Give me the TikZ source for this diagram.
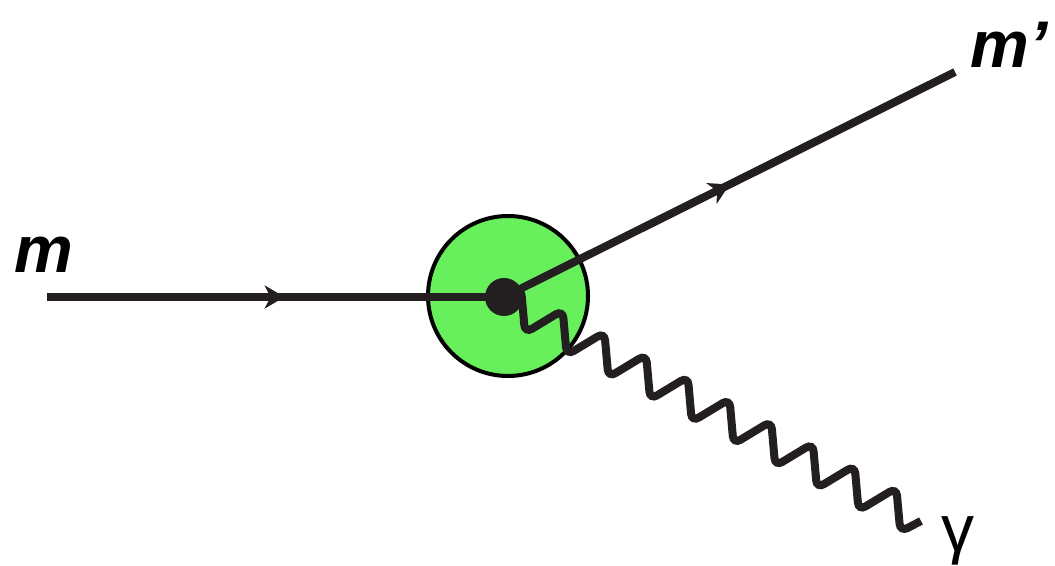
\documentclass[tikz,border=0pt]{standalone}
\usepackage{fontspec}
\setsansfont{Liberation Sans}
\usepackage{tikz}
\usetikzlibrary{arrows.meta}
\usetikzlibrary{decorations.markings}

\definecolor{linegray}{RGB}{35,31,32}
\definecolor{blobgreen}{RGB}{104,240,92}

\tikzset{
  fermion/.style={line width=4pt, draw=linegray,
    postaction={decorate, decoration={markings,
      mark=at position #1 with {\arrow[linegray]{Stealth[length=10pt,width=11.5pt,inset=3pt]}}}}},
  photon/.style={line width=4pt, draw=linegray, rounded corners=4pt, line cap=butt},
  lbl/.style={font=\sffamily\fontsize{33}{36}\selectfont, text=black, inner sep=0pt}
}

\begin{document}
\begin{tikzpicture}[x=0.5pt, y=-0.5pt]

  \useasboundingbox (0,0) rectangle (1055,566);

  % blob round the vertex
  \node[circle, draw=black, line width=2pt, fill=blobgreen, minimum size=80pt, inner sep=0pt] (blob) at (508,296) {};

  \coordinate (v) at (504,297);
  \coordinate (in) at (47,297);
  \coordinate (out) at (955,72);
  \coordinate (gend) at (921,521);

  \draw[fermion=0.52] (in) -- (v);
  \draw[fermion=0.5] (v) -- (out);
  % photon: steep down strokes, slanted up strokes
  \draw[photon] (v) -- (521,288)
    \foreach \k in {1,...,9} { -- ++(4,45) -- ++(37.7,-22.8) }
    -- ++(4,44) -- (gend);

  \node[circle, fill=linegray, minimum size=19pt, inner sep=0pt] (dot) at (v) {};

  \node[lbl, anchor=base west] (lm) at (14,273) {\bfseries\itshape m};
  \node[lbl, anchor=base west] (lmp) at (970,68) {\bfseries\itshape m’};
  \node[lbl, anchor=north west] (lg) at (941,516) {γ};

\end{tikzpicture}
\end{document}
